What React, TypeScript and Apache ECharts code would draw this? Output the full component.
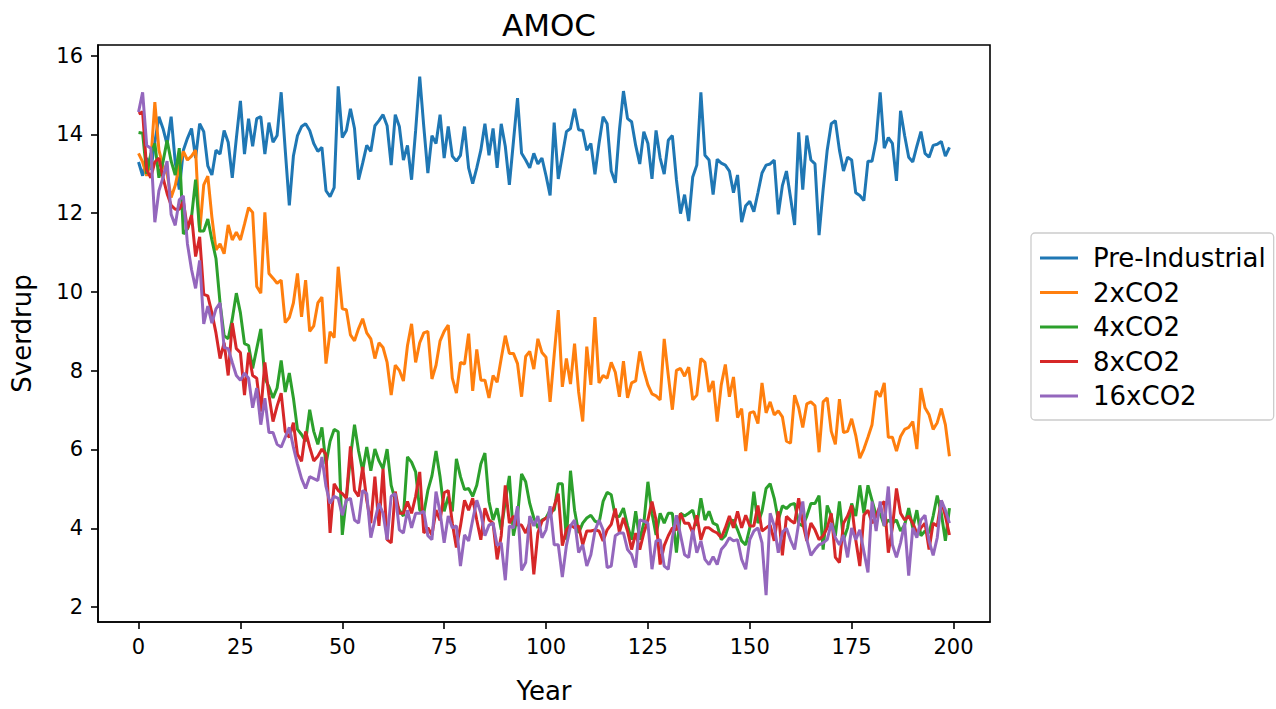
import React, { useEffect, useRef } from "react";
import * as echarts from "echarts";

const years: number[] = Array.from({ length: 200 }, (_, i) => i);

const preIndustrial = [
  13.3, 12.95, 13.4, 13.1, 13.8, 14.45, 14.15, 13.75, 14.45, 13.3,
  12.6, 13.6, 13.9, 14.15, 13.4, 14.27, 14.07, 13.2, 12.97, 13.6,
  13.5, 14.1, 13.8, 12.9, 13.9, 14.85, 13.5, 14.4, 13.7, 14.4,
  14.45, 13.5, 14.3, 13.8, 13.97, 15.07, 13.6, 12.2, 13.45, 13.97,
  14.2, 14.27, 14.1, 13.77, 13.57, 13.67, 12.57, 12.42, 12.65, 15.22,
  13.92, 14.1, 14.65, 14.15, 12.85, 13.27, 13.72, 13.57, 14.22, 14.35,
  14.5, 14.22, 13.22, 14.5, 14.2, 13.35, 13.72, 12.85, 14.1, 15.47,
  14.2, 13.02, 13.97, 13.77, 14.5, 13.4, 14.2, 13.45, 13.32, 13.47,
  14.2, 13.15, 12.75, 13.15, 13.6, 14.27, 13.47, 14.15, 13.15, 14.27,
  13.7, 12.72, 13.82, 14.92, 13.52, 13.35, 13.15, 13.52, 13.25, 13.4,
  12.95, 12.45, 14.3, 12.87, 13.47, 14.07, 14.15, 14.65, 14.12, 14.1,
  13.6, 13.77, 12.99, 13.77, 14.45, 14.27, 13.07, 12.77, 14.1, 15.1,
  14.4, 14.32, 13.72, 13.25, 14.07, 13.77, 12.87, 14.1, 13.4, 12.99,
  13.85, 13.97, 12.85, 11.99, 12.47, 11.8, 12.92, 13.22, 15.07, 13.47,
  13.35, 12.47, 13.37, 13.27, 13.22, 13.07, 12.52, 12.97, 11.77, 12.19,
  12.3, 12.04, 12.52, 13.02, 13.22, 13.25, 13.35, 11.97, 12.7, 13.07,
  12.4, 11.7, 14.05, 12.6, 13.97, 13.35, 13.25, 11.44, 12.6, 13.6,
  14.27, 14.35, 13.6, 13.07, 13.42, 13.35, 12.52, 12.45, 12.32, 13.32,
  13.32, 13.85, 15.07, 13.65, 13.92, 13.77, 12.82, 14.6, 13.97, 13.42,
  13.3, 13.7, 14.07, 13.52, 13.42, 13.72, 13.75, 13.82, 13.45, 13.67,
];

const co2x2 = [
  13.52, 13.3, 12.95, 13.3, 14.82, 13.6, 13.2, 13.0, 12.4, 12.7,
  13.2, 13.57, 13.35, 13.45, 13.6, 11.52, 12.72, 12.94, 11.9, 11.07,
  11.22, 10.97, 11.7, 11.32, 11.52, 11.32, 11.72, 12.14, 12.02, 10.14,
  9.97, 12.02, 10.47, 10.35, 10.22, 10.3, 9.22, 9.35, 9.72, 10.47,
  9.37, 10.3, 9.0, 9.14, 9.72, 9.87, 8.18, 8.99, 8.84, 10.64,
  9.57, 9.55, 8.91, 8.76, 9.07, 9.32, 8.96, 8.81, 8.31, 8.71,
  8.59, 8.21, 7.38, 8.14, 8.01, 7.74, 8.64, 9.19, 8.21, 8.71,
  8.96, 9.0, 7.79, 8.14, 8.76, 9.0, 9.16, 7.81, 7.43, 8.21,
  8.17, 8.94, 7.49, 8.54, 7.76, 7.76, 7.31, 7.88, 7.71, 8.31,
  8.89, 8.44, 8.44, 8.18, 7.34, 8.36, 8.49, 8.04, 8.81, 8.46,
  8.34, 7.21, 8.4, 9.54, 7.59, 8.31, 7.66, 8.69, 7.46, 6.71,
  8.61, 7.64, 9.36, 7.69, 7.88, 7.81, 8.21, 7.96, 7.34, 8.24,
  7.31, 7.69, 7.74, 8.49, 8.01, 7.64, 7.41, 7.36, 7.26, 8.81,
  7.88, 7.01, 8.01, 8.06, 7.86, 8.09, 7.26, 7.38, 8.31, 8.21,
  7.46, 7.74, 6.71, 7.64, 8.16, 7.34, 7.84, 6.81, 7.04, 5.96,
  6.93, 6.96, 6.66, 7.69, 6.93, 7.21, 6.88, 6.98, 6.83, 6.21,
  6.16, 7.38, 7.06, 6.56, 7.16, 7.21, 7.11, 5.93, 7.21, 7.31,
  6.46, 6.13, 7.28, 6.43, 6.46, 6.78, 6.36, 5.78, 6.01, 6.31,
  6.63, 7.49, 7.34, 7.69, 6.31, 6.31, 5.96, 6.33, 6.51, 6.56,
  6.71, 6.01, 7.56, 7.06, 6.88, 6.51, 6.68, 7.04, 6.63, 5.83,
];

const co2x4 = [
  14.05, 14.03, 13.0, 13.5, 13.77, 12.9, 13.3, 13.85, 13.32, 12.97,
  13.65, 11.47, 11.6, 11.9, 12.85, 11.55, 11.55, 11.85, 11.32, 10.85,
  9.72, 8.89, 8.81, 9.31, 9.97, 9.47, 8.69, 8.64, 8.06, 8.56,
  9.06, 7.81, 7.59, 7.31, 7.56, 8.26, 7.46, 7.94, 7.31, 6.51,
  6.38, 6.21, 7.01, 6.46, 6.13, 6.56, 5.63, 6.21, 6.51, 6.45,
  3.83, 4.76, 5.8, 6.63, 5.96, 5.46, 6.06, 5.46, 6.01, 5.71,
  5.51, 6.01, 5.09, 4.71, 4.46, 4.31, 5.81, 5.68, 5.43, 4.46,
  4.38, 4.96, 5.33, 5.96, 5.3, 4.43, 4.8, 4.43, 5.76, 5.31,
  4.98, 5.01, 4.81, 5.09, 5.63, 5.91, 4.68, 4.21, 4.51, 3.96,
  4.68, 5.33, 3.81, 4.31, 5.38, 5.18, 4.63, 4.26, 4.01, 4.21,
  4.26, 4.46, 4.46, 5.13, 5.13, 3.71, 5.46, 4.46, 3.88, 4.13,
  4.26, 4.33, 4.18, 4.13, 4.68, 4.91, 4.85, 4.3, 4.3, 4.51,
  4.06, 3.71, 4.43, 3.71, 4.13, 5.18, 4.38, 3.83, 4.38, 4.13,
  4.38, 4.38, 3.38, 4.38, 4.31, 4.38, 4.46, 4.06, 4.76, 4.21,
  4.43, 4.13, 4.08, 3.71, 3.81, 4.13, 4.21, 3.96, 3.68, 3.58,
  4.01, 4.93, 4.13, 4.43, 5.01, 5.13, 4.76, 4.21, 4.57, 4.5,
  4.6, 4.63, 4.13, 4.06, 4.31, 4.63, 4.63, 4.83, 3.46, 4.58,
  4.31, 3.81, 4.68, 3.71, 4.01, 4.63, 4.31, 5.09, 4.38, 5.09,
  4.71, 4.33, 4.38, 4.06, 4.21, 4.13, 4.21, 3.93, 4.08, 4.51,
  4.01, 4.46, 3.81, 3.93, 3.88, 4.31, 4.83, 4.38, 3.68, 4.51,
];

const co2x8 = [
  14.52, 14.57, 13.1, 12.9, 13.3, 13.4, 12.9, 12.5, 12.2, 12.1,
  12.1, 12.3, 11.6, 11.95, 10.9, 11.4, 9.94, 9.9, 9.47, 8.96,
  8.31, 8.71, 7.88, 9.21, 8.56, 8.46, 7.38, 8.46, 7.88, 7.81,
  6.96, 8.21, 7.38, 6.71, 7.1, 7.43, 6.46, 6.31, 6.68, 5.88,
  5.7, 6.46, 6.06, 5.71, 5.83, 6.01, 5.88, 3.88, 5.13, 4.96,
  4.88, 4.76, 6.08, 4.96, 4.81, 5.56, 4.71, 4.13, 5.31, 4.06,
  5.51, 3.71, 3.63, 4.93, 4.38, 4.38, 4.68, 4.38, 4.81, 5.43,
  3.88, 4.01, 3.83, 4.46, 4.2, 4.9, 4.96, 4.13, 3.51, 4.06,
  4.71, 4.46, 4.76, 4.21, 3.71, 4.51, 4.21, 4.13, 3.21, 3.81,
  5.09, 4.13, 4.31, 4.08, 4.08, 3.88, 4.13, 2.83, 3.88, 4.18,
  4.26, 4.31, 4.56, 4.88, 3.56, 3.96, 4.08, 4.01, 4.06, 3.58,
  3.93, 3.93, 3.96, 3.93, 3.68, 3.96, 4.1, 4.5, 3.9, 4.26,
  3.93, 3.46, 3.88, 3.46, 3.88, 4.21, 4.68, 4.21, 3.08, 3.56,
  3.81, 4.01, 3.96, 4.38, 4.13, 4.13, 3.88, 4.33, 3.71, 4.01,
  4.01, 3.93, 3.88, 3.76, 4.01, 4.31, 4.01, 4.43, 4.01, 4.33,
  4.06, 4.06, 4.58, 3.93, 4.01, 4.08, 3.68, 4.43, 3.31, 4.3,
  4.2, 4.13, 4.76, 4.13, 3.68, 4.13, 3.96, 3.71, 3.81, 4.01,
  4.38, 3.26, 3.13, 4.13, 4.31, 4.58, 3.71, 3.04, 4.33, 4.46,
  4.13, 4.31, 4.58, 4.68, 3.38, 4.01, 5.01, 4.38, 4.21, 4.31,
  4.13, 3.88, 4.01, 4.13, 3.46, 4.13, 4.06, 4.71, 4.31, 3.83,
];

const co2x16 = [
  14.57, 15.07, 13.72, 13.65, 11.77, 12.57, 12.9, 13.32, 11.97, 11.69,
  12.34, 12.44, 11.22, 10.57, 10.09, 10.8, 9.19, 9.64, 9.21, 9.57,
  9.72, 8.59, 8.56, 8.21, 7.88, 7.76, 7.94, 7.81, 7.06, 7.56,
  6.63, 7.3, 6.43, 6.43, 6.13, 6.06, 6.31, 6.56, 6.06, 5.63,
  5.26, 5.01, 5.31, 5.26, 5.21, 5.81, 5.06, 4.63, 4.81, 4.76,
  4.33, 4.71, 4.76, 4.21, 4.13, 4.96, 4.88, 3.76, 4.21, 4.63,
  4.38, 3.71, 4.81, 4.88, 3.96, 3.88, 4.46, 4.01, 4.38, 4.38,
  4.43, 3.81, 3.71, 4.93, 4.4, 3.63, 4.31, 4.01, 4.06, 3.04,
  3.83, 3.68, 4.21, 4.71, 4.38, 3.81, 4.08, 4.13, 3.56, 3.63,
  2.68, 4.06, 4.01, 4.56, 2.93, 3.13, 4.31, 4.06, 4.31, 3.76,
  3.96, 4.56, 3.58, 3.58, 2.76, 3.56, 4.06, 4.21, 3.38, 3.58,
  3.04, 3.33, 3.93, 4.21, 3.96, 3.0, 3.04, 3.81, 3.88, 3.88,
  3.46, 3.33, 3.0, 4.21, 4.18, 4.13, 2.96, 3.68, 3.71, 3.04,
  2.96, 3.76, 4.33, 3.83, 3.33, 3.26, 3.96, 3.38, 3.68, 3.21,
  3.08, 3.28, 3.08, 3.46, 3.58, 3.76, 3.68, 3.71, 3.21, 2.96,
  3.71, 3.93, 4.01, 3.63, 2.3, 4.38, 4.06, 3.38, 3.9, 4.0,
  3.7, 3.46, 4.13, 4.68, 3.71, 3.31, 3.46, 3.58, 3.63, 3.71,
  4.13, 3.76, 3.58, 3.83, 3.26, 4.01, 3.71, 3.96, 3.41, 2.88,
  4.68, 3.93, 4.68, 4.06, 5.06, 3.58, 3.26, 3.63, 4.13, 2.8,
  4.01, 3.76, 4.21, 4.33, 3.68, 3.31, 3.76, 4.71, 4.46, 4.13,
];

const seriesNames = ["Pre-Industrial", "2xCO2", "4xCO2", "8xCO2", "16xCO2"];
const seriesValues = [preIndustrial, co2x2, co2x4, co2x8, co2x16];
const colors = ["#1f77b4", "#ff7f0e", "#2ca02c", "#d62728", "#9467bd"];
const xTicks = [0, 25, 50, 75, 100, 125, 150, 175, 200];
const yTicks = [2, 4, 6, 8, 10, 12, 14, 16];

const FONT = "DejaVu Sans";

export default function App() {
  const ref = useRef<HTMLDivElement>(null);
  useEffect(() => {
    if (!ref.current) return;
    const chart = echarts.init(ref.current, null, { renderer: "svg" });
    chart.setOption({
      animation: false,
      backgroundColor: "#ffffff",
      title: {
        text: "AMOC",
        left: 544,
        top: 4,
        textAlign: "center",
        textStyle: { fontFamily: FONT, fontSize: 31, fontWeight: "normal", color: "#000" },
      },
      legend: {
        orient: "vertical",
        left: 1031,
        top: 233,
        padding: [12, 8, 11, 9],
        backgroundColor: "#fff",
        borderColor: "#cccccc",
        borderWidth: 1.3,
        borderRadius: 4,
        itemWidth: 38,
        itemHeight: 14,
        itemGap: 8.5,
        icon: "path://M0,0L38,0L38,3L0,3Z",
        textStyle: { fontFamily: FONT, fontSize: 26, lineHeight: 26, color: "#000", padding: [0, 0, 0, 10] },
        data: seriesNames,
      },
      grid: {
        left: 98,
        top: 45,
        width: 892,
        height: 585,
        show: true,
        borderColor: "#000",
        borderWidth: 1.6,
        containLabel: false,
      },
      xAxis: {
        type: "value",
        min: -9.95,
        max: 208.95,
        name: "Year",
        nameLocation: "middle",
        nameGap: 56,
        nameTextStyle: { fontFamily: FONT, fontSize: 26, color: "#000" },
        axisLine: { show: true, onZero: false, lineStyle: { color: "#000", width: 1.6 } },
        axisTick: { show: true, inside: false, length: 7, lineStyle: { color: "#000", width: 1.6 }, customValues: xTicks },
        axisLabel: { fontFamily: FONT, fontSize: 21, color: "#000", margin: 14, customValues: xTicks },
        splitLine: { show: false },
      },
      yAxis: {
        type: "value",
        min: 1.62,
        max: 16.27,
        name: "Sverdrup",
        nameLocation: "middle",
        nameGap: 63,
        nameTextStyle: { fontFamily: FONT, fontSize: 26, color: "#000" },
        axisLine: { show: true, onZero: false, lineStyle: { color: "#000", width: 1.6 } },
        axisTick: { show: true, inside: false, length: 7, lineStyle: { color: "#000", width: 1.6 }, customValues: yTicks },
        axisLabel: { fontFamily: FONT, fontSize: 21, color: "#000", margin: 15, customValues: yTicks },
        splitLine: { show: false },
      },
      series: seriesNames.map((name, si) => ({
        name,
        type: "line",
        symbol: "none",
        showSymbol: false,
        color: colors[si],
        lineStyle: { color: colors[si], width: 3 },
        data: years.map((y, i) => [y, seriesValues[si][i]]),
      })),
    });
    return () => chart.dispose();
  }, []);
  return (
    <div
      ref={ref}
      style={{ position: "fixed", left: 0, top: 0, width: 1276, height: 709 }}
    />
  );
}
